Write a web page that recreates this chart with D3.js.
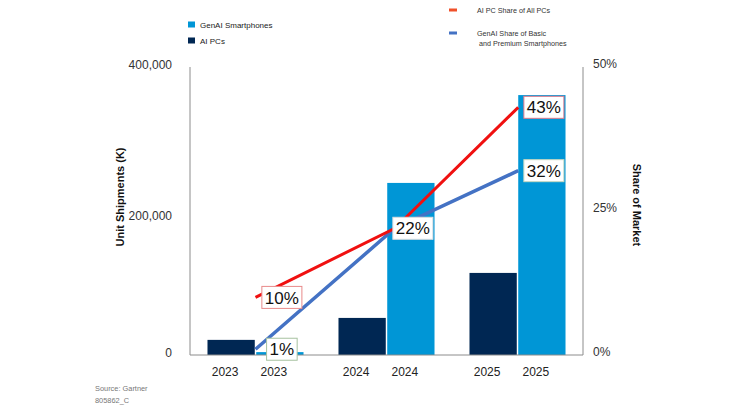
<!DOCTYPE html>
<html>
<head>
<meta charset="utf-8">
<script src="https://cdn.jsdelivr.net/npm/d3@7"></script>
<style>
  body { margin: 0; background: #fff; }
  text { font-family: "Liberation Sans", Arial, sans-serif; }
</style>
</head>
<body>
<div class="chart"></div>
<script>
// data
const years = ["2023", "2024", "2025"];
const aiPCs = [21000, 51500, 114000];          // unit shipments (K)
const genAIPhones = [4000, 239000, 361000];    // unit shipments (K)
const aiPCShare = [10, 22, 43];                // % of all PCs
const genAIShare = [1, 22, 32];                // % of basic + premium phones
const leftTicks = [0, 200000, 400000];
const rightTicks = [0, 25, 50];
const seriesNames = ["AI PCs", "GenAI Smartphones"];

const width = 753, height = 408;
const plot = {left: 190, right: 583, top: 67, bottom: 355};

const svg = d3.select(".chart").append("svg")
  .attr("width", width)
  .attr("height", height);

/* scales */
const xGroup = d3.scaleBand()
  .domain(years)
  .range([plot.left, plot.right])
  .paddingInner(0.267)
  .paddingOuter(0.1335);

const xSub = d3.scaleBand()
  .domain(seriesNames)
  .range([0, xGroup.bandwidth()])
  .paddingInner(0.03);

const yLeft = d3.scaleLinear().domain([0, 400000]).range([plot.bottom, plot.top]);
const yRight = d3.scaleLinear().domain([0, 50]).range([plot.bottom, plot.top]);

const colors = {"AI PCs": "#002753", "GenAI Smartphones": "#0096d6"};

/* bars */
const rows = years.map((y, i) => ({year: y, "AI PCs": aiPCs[i], "GenAI Smartphones": genAIPhones[i]}));

const groups = svg.append("g").selectAll("g")
  .data(rows)
  .join("g")
    .attr("transform", d => `translate(${xGroup(d.year)},0)`);

groups.selectAll("rect")
  .data(d => seriesNames.map(k => ({key: k, value: d[k]})))
  .join("rect")
    .attr("x", d => xSub(d.key))
    .attr("y", d => yLeft(d.value))
    .attr("width", xSub.bandwidth())
    .attr("height", d => yLeft(0) - yLeft(d.value))
    .attr("fill", d => colors[d.key]);

/* year labels under every bar */
groups.selectAll("text")
  .data(seriesNames)
  .join("text")
    .attr("x", k => xSub(k) + xSub.bandwidth() / 2 - 6)
    .attr("y", plot.bottom + 21)
    .attr("text-anchor", "middle")
    .attr("font-size", 12)
    .attr("fill", "#222")
    .text(function () { return d3.select(this.parentNode).datum().year; });

/* axes lines */
const axisColor = "#8c8c8c";
svg.append("line")
  .attr("x1", plot.left).attr("x2", plot.left)
  .attr("y1", plot.top).attr("y2", plot.bottom)
  .attr("stroke", axisColor);
svg.append("line")
  .attr("x1", plot.right).attr("x2", plot.right)
  .attr("y1", plot.top).attr("y2", plot.bottom)
  .attr("stroke", axisColor);
svg.append("line")
  .attr("x1", plot.left).attr("x2", plot.right)
  .attr("y1", plot.bottom).attr("y2", plot.bottom)
  .attr("stroke", axisColor);

/* tick labels */
svg.append("g").selectAll("text")
  .data(leftTicks)
  .join("text")
    .attr("x", 172)
    .attr("y", d => yLeft(d) + (d === 200000 ? 5 : -2))
    .attr("dy", "0.35em")
    .attr("text-anchor", "end")
    .attr("font-size", 12)
    .attr("fill", "#333")
    .text(d => d3.format(",")(d));

svg.append("g").selectAll("text")
  .data(rightTicks)
  .join("text")
    .attr("x", 593)
    .attr("y", d => yRight(d) - 3)
    .attr("dy", "0.35em")
    .attr("font-size", 12)
    .attr("fill", "#333")
    .text(d => d + "%");

/* axis titles */
svg.append("text")
  .attr("transform", "translate(124,197) rotate(-90)")
  .attr("text-anchor", "middle")
  .attr("font-size", 11)
  .attr("font-weight", "bold")
  .attr("fill", "#111")
  .text("Unit Shipments (K)");

svg.append("text")
  .attr("transform", "translate(633,205) rotate(90)")
  .attr("text-anchor", "middle")
  .attr("font-size", 11)
  .attr("font-weight", "bold")
  .attr("fill", "#111")
  .text("Share of Market");

/* share lines */
const xLine = d3.scalePoint()
  .domain(years)
  .range([xGroup(years[0]) + xGroup.bandwidth() / 2,
          xGroup(years[2]) + xSub("GenAI Smartphones")]);

const line = d3.line()
  .x((d, i) => xLine(years[i]) + (i === 1 ? 8 : 0))
  .y(d => yRight(d));

svg.append("path")
  .datum(genAIShare)
  .attr("d", line)
  .attr("fill", "none")
  .attr("stroke", "#4472c4")
  .attr("stroke-width", 3.5);

svg.append("path")
  .datum(aiPCShare)
  .attr("d", line)
  .attr("fill", "none")
  .attr("stroke", "#f01010")
  .attr("stroke-width", 3);

/* value boxes, centred on the GenAI bar */
const boxes = [
  {year: "2023", v: aiPCShare[0], border: "#e88a8a"},
  {year: "2023", v: genAIShare[0], border: "#a6c2a0"},
  {year: "2024", v: aiPCShare[1], border: "#dddddd"},
  {year: "2025", v: aiPCShare[2], border: "#e07a8a"},
  {year: "2025", v: genAIShare[2], border: "#c8d8c0"}
];

const boxG = svg.append("g").selectAll("g")
  .data(boxes)
  .join("g")
    .attr("transform", d => `translate(${xGroup(d.year) + xSub("GenAI Smartphones") + xSub.bandwidth() / 2 + 2},${yRight(d.v)})`);

boxG.append("text")
  .attr("text-anchor", "middle")
  .attr("dy", "0.36em")
  .attr("font-size", 17)
  .attr("fill", "#111")
  .text(d => d.v + "%");

boxG.each(function () {
  const g = d3.select(this);
  const bb = g.select("text").node().getBBox();
  g.insert("rect", "text")
    .attr("x", bb.x - 3)
    .attr("y", -11)
    .attr("width", bb.width + 6)
    .attr("height", 22)
    .attr("fill", "#fff")
    .attr("stroke", d => d.border)
    .attr("stroke-width", 1);
});

/* legend: bars */
const barLegend = svg.append("g").selectAll("g")
  .data(["GenAI Smartphones", "AI PCs"])
  .join("g")
    .attr("transform", (d, i) => `translate(188,${25 + i * 16})`);
barLegend.append("rect")
  .attr("x", 0).attr("y", -3.5)
  .attr("width", 7).attr("height", 6)
  .attr("fill", d => colors[d]);
barLegend.append("text")
  .attr("x", 12)
  .attr("dy", "0.35em")
  .attr("font-size", 8)
  .attr("fill", "#222")
  .text(d => d);

/* legend: lines */
const lineLegend = [
  {color: "#f0502a", lines: ["AI PC Share of All PCs"], y: 10},
  {color: "#4472c4", lines: ["GenAI Share of Basic", " and Premium Smartphones"], y: 33}
];
const ll = svg.append("g").selectAll("g")
  .data(lineLegend)
  .join("g")
    .attr("transform", d => `translate(449,${d.y})`);
ll.append("rect")
  .attr("x", 0).attr("y", -1.5)
  .attr("width", 8).attr("height", 3)
  .attr("fill", d => d.color);
ll.append("text")
  .attr("x", 28)
  .attr("font-size", 7.2)
  .attr("fill", "#333")
  .attr("font-family", "'Open Sans', sans-serif")
  .selectAll("tspan")
  .data(d => d.lines)
  .join("tspan")
    .attr("x", 28)
    .attr("dy", (d, i) => i === 0 ? "0.35em" : "1.45em")
    .attr("xml:space", "preserve")
    .style("white-space", "pre")
    .text(d => d);

/* source */
svg.append("text")
  .attr("x", 95).attr("y", 391)
  .attr("font-size", 7.4)
  .attr("fill", "#777")
  .text("Source: Gartner");
svg.append("text")
  .attr("x", 95).attr("y", 403)
  .attr("font-size", 7.4)
  .attr("fill", "#777")
  .text("805862_C");
</script>
</body>
</html>
